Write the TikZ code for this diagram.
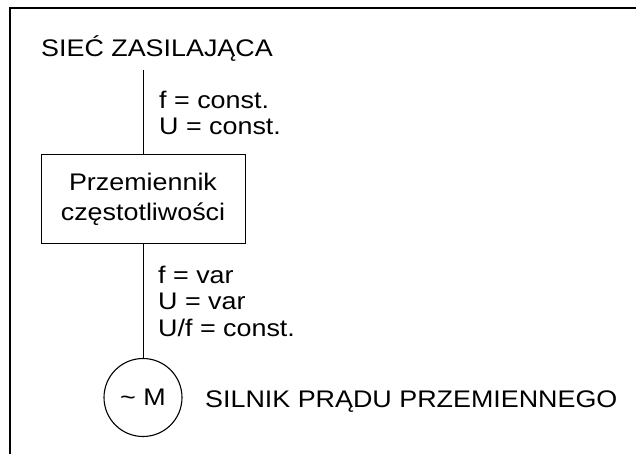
\documentclass[tikz,border=0pt]{standalone}
\usepackage{fontspec}
\setmainfont{Liberation Sans}[FakeStretch=1.12]
\usepackage{tikz}
\tikzset{
  pFrame/.style={line width=2pt,line cap=rect},
  pLine/.style={line width=1pt},
  pText/.style={inner sep=0pt,font=\fontsize{24}{26.5}\selectfont},
  pTitle/.style={pText,anchor=base west},
  pLabel/.style={pText,anchor=base west,align=left},
  pBox/.style={pText,draw,line width=1pt,align=center,
        font=\fontsize{24}{30}\selectfont,
        minimum width=204pt,minimum height=88pt},
  pMotor/.style={pText,draw,circle,line width=1.1pt,minimum size=78pt},
}

\begin{document}
\begin{tikzpicture}[x=1pt,y=-1pt]
\useasboundingbox (0,0) rectangle (636,454);
\draw[pFrame] (10,454) -- (10,8) -- (636,8);
\node[pTitle]  (net)  at (41,57)    {SIEĆ ZASILAJĄCA};
\node[pBox]    (conv) at (143,199)  {Przemiennik\\częstotliwości};
\node[pMotor]  (mot)  at (143,397.5) {\textasciitilde{} M};
\node[pTitle]  (name) at (205,407)  {SILNIK PRĄDU PRZEMIENNEGO};
\coordinate (feed) at (143,70);
\draw[pLine] (feed) -- (conv.north);
\draw[pLine] (conv.south) -- (mot.north);
% base anchor of a multi-line node sits on its last line
\node[pLabel]  (in)   at (159,135)  {f = const.\\U = const.};
\node[pLabel]  (out)  at (158,336)  {f = var\\U = var\\U/f = const.};
\end{tikzpicture}
\end{document}
